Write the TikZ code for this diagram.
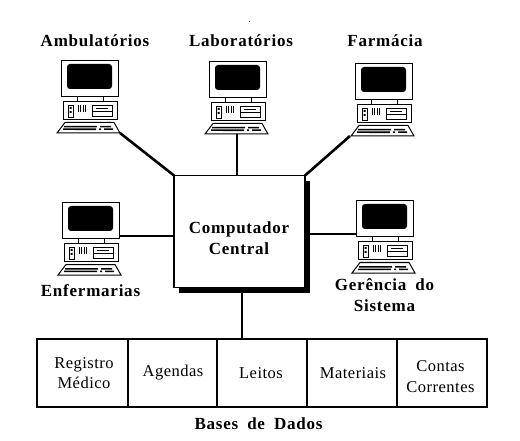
\documentclass[tikz,border=0pt]{standalone}
\usepackage{fontspec}
\setmainfont{Liberation Serif}
\newfontfamily\boldlab[LetterSpace=4.5,WordSpace=1.8]{Liberation Serif}
\newfontfamily\plainlab[LetterSpace=3]{Liberation Serif}
\tikzset{
  px/.style={x=1pt,y=-1pt},
  wire/.style={draw=black,line width=2pt},
  thick wire/.style={draw=black,line width=2.6pt},
  title/.style={font=\boldlab\fontsize{17}{20.5}\selectfont\bfseries,align=center,inner sep=0pt},
  cell/.style={font=\plainlab\fontsize{16.5}{20.5}\selectfont,align=center,inner sep=0pt},
  computer/.pic={
    \draw[line width=.9pt] (0,0) rectangle (57,36);
    \fill[rounded corners=3pt] (6,4) rectangle (51,29);
    \draw[line width=.9pt] (16,36) -- (16,41) (42,36) -- (42,41);
    \draw[line width=.9pt] (2,41.5) rectangle (56,59);
    \draw[line width=.9pt] (7,45) rectangle (12,57);
    \fill (8.5,47) rectangle (10.5,49) (8.5,51) rectangle (10.5,53);
    \draw[line width=.8pt] (17,45) -- (17,52) (19.5,45) -- (19.5,52) (22,45) -- (22,52) (24.5,45) -- (24.5,52);
    \draw[line width=.9pt] (31,45) rectangle (51,56) (31,51) -- (51,51) (35,48) -- (47,48);
    \draw[line width=1pt] (4,62.5) -- (53,62.5) -- (59,73) -- (-4,73) -- cycle;
    \fill (3,66) rectangle (36,67.5) (39,66) rectangle (50,67.5);
    \fill (2,68.5) rectangle (14,70) (14,68.5) rectangle (35,70.2) (38,68.5) rectangle (40,70) (43,68.5) rectangle (52,70);
    \coordinate (-se) at (59,73);
    \coordinate (-s) at (28,73);
    \coordinate (-sw) at (-4,73);
    \coordinate (-e) at (57,36);
    \coordinate (-w) at (0,34);
  },
}
\begin{document}
\begin{tikzpicture}[px]
\useasboundingbox (0,0) rectangle (520,441);
\fill[white] (0,0) rectangle (520,441);
\fill (248.5,21.5) rectangle (249.5,22.5);
\pic (amb) at (61,60) {computer};
\pic (lab) at (209,61) {computer};
\pic (far) at (355,63) {computer};
\pic (enf) at (62,202) {computer};
\pic (ger) at (356,200) {computer};
\node[title] (tamb) at (95,41) {Ambulatórios};
\node[title] (tlab) at (241,41) {Laboratórios};
\node[title] (tfar) at (385,41) {Farmácia};
\node[title] (tenf) at (90.5,291) {Enfermarias};
\node[title] (tger) at (384.5,295) {Gerência do\\Sistema};
\fill (179,181) rectangle (310,293);
\node[draw=black,fill=white,line width=1.2pt,minimum width=131pt,minimum height=112pt,inner sep=0pt,anchor=north west,outer sep=0pt] (central) at (174,175.5) {};
\node[title] (tcentral) at (239,238) {Computador\\Central};
\coordinate (bot) at (242,293);
\node[draw=black,line width=1.8pt,minimum width=450pt,minimum height=68pt,inner sep=0pt,outer sep=0pt,anchor=north west] (db) at (37,339) {};
\draw[wire] (128,339) -- (128,407) (217,339) -- (217,407) (307,339) -- (307,407) (397,339) -- (397,407);
\node[cell] (c1) at (84,373) {Registro\\Médico};
\node[cell] (c2) at (173,373) {Agendas};
\node[cell] (c3) at (261,373) {Leitos};
\node[cell] (c4) at (353,373) {Materiais};
\node[cell] (c5) at (440.5,376.5) {Contas\\Correntes};
\node[title] (tdb) at (258.5,424) {Bases de Dados};
\draw[thick wire] (amb-se) -- (central.north west);
\draw[wire] (lab-s) -- (lab-s |- central.north);
\draw[thick wire] (far-sw) ++(-1,0) -- (central.north east);
\draw[wire] (enf-e |- 0,236) -- (central.west |- 0,236);
\draw[wire] (central.east |- 0,234) -- (ger-w);
\draw[wire] (bot) -- (bot |- db.north);
\end{tikzpicture}
\end{document}
